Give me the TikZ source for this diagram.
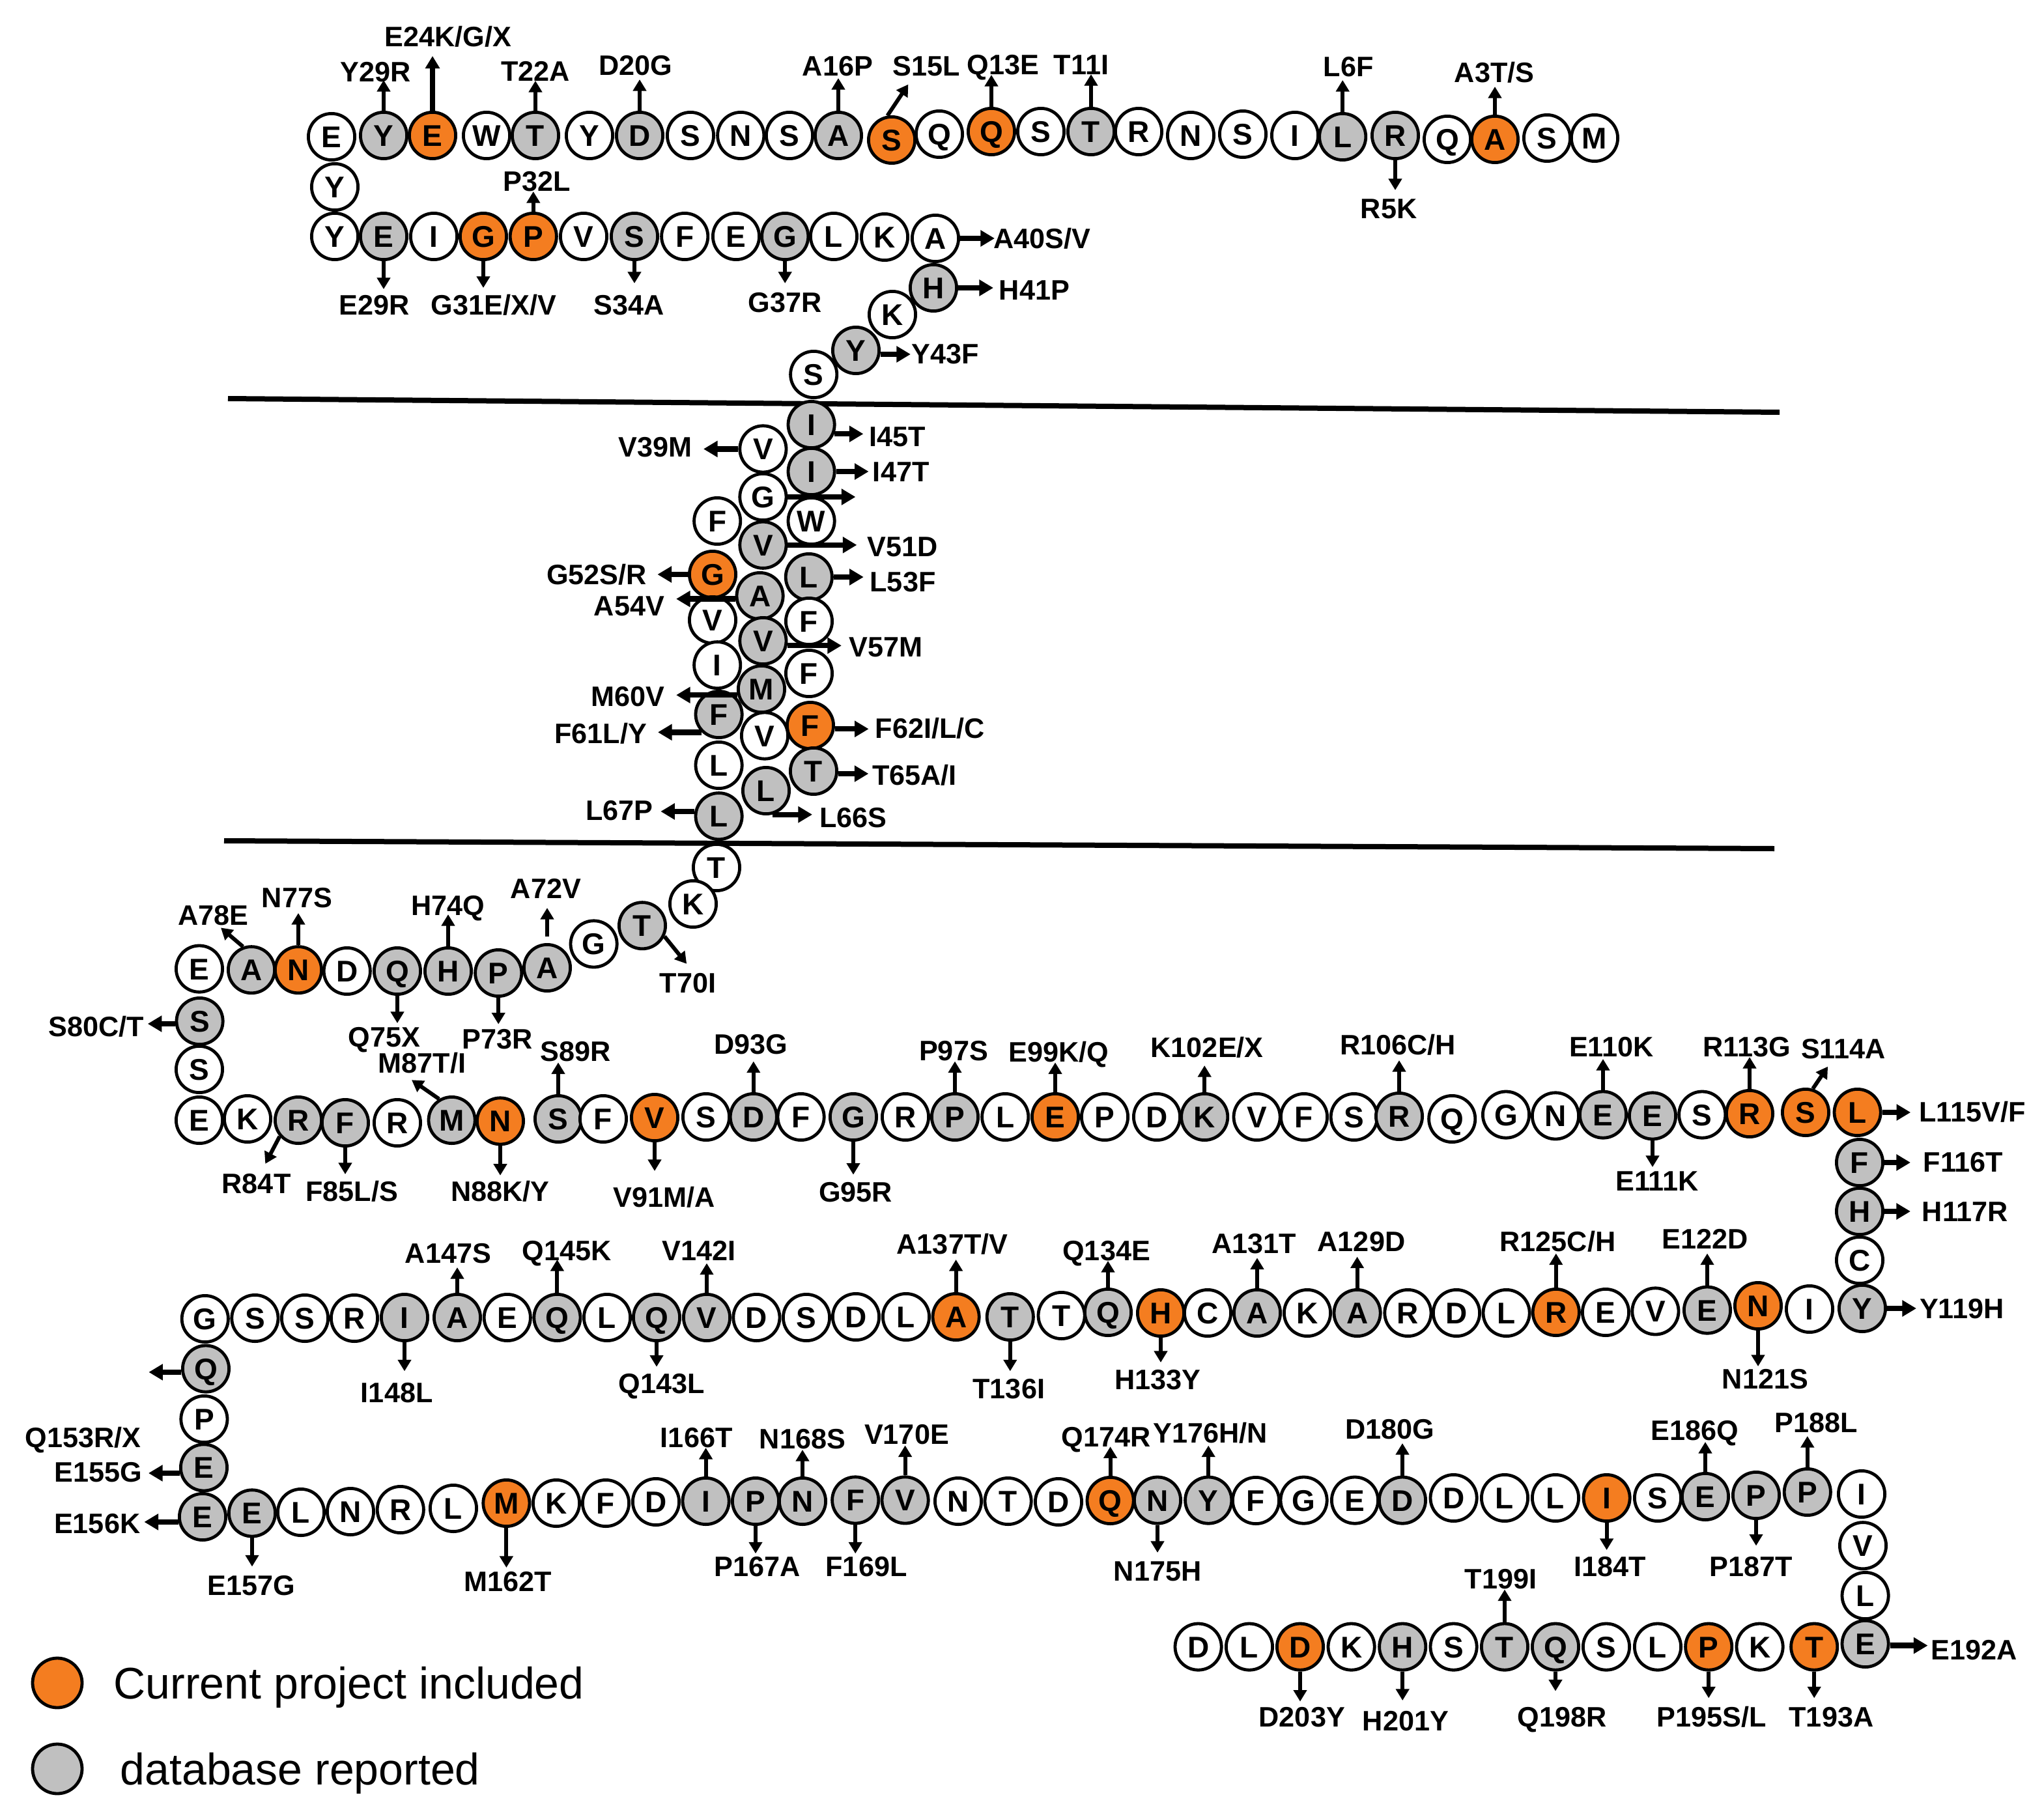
\documentclass[tikz,border=0pt]{standalone}
\usepackage{fontspec}
\setmainfont{Liberation Sans}
\usetikzlibrary{arrows.meta,calc}
\definecolor{colo}{RGB}{244,125,32}
\definecolor{colg}{RGB}{192,192,192}
\definecolor{colw}{RGB}{255,255,255}
\newcommand\resfont{\fontsize{11.5pt}{13pt}\selectfont\bfseries}
\newcommand\labfont{\fontsize{10.8pt}{12pt}\selectfont\bfseries}
\newcommand\legfont{\fontsize{17pt}{20pt}\selectfont}
\newcommand\mut[6]{%
  \coordinate (#2t) at ($(#2.#3)+(#4)$);
  \draw[#1] (#2.#3) -- (#2t);
  \node[lab] (#2l) at (#5) {#6};}
\tikzset{
  res/.style={circle, draw=black, line width=1.2pt, minimum size=17.8pt, inner sep=0pt,
    font=\resfont, text height=8.2pt, text depth=0pt},
  lab/.style={font=\labfont, inner sep=0pt, text height=7.7pt, text depth=0pt},
  va/.style={line width=1.5pt, -{Triangle[length=4.4pt,width=5pt]}},
  vb/.style={line width=1.9pt, -{Triangle[length=4.8pt,width=5.4pt]}},
  ha/.style={line width=2.1pt, -{Triangle[length=5.4pt,width=6pt]}},
  membrane/.style={line width=2pt, black},
}
\begin{document}
\begin{tikzpicture}[x=0.5pt,y=-0.5pt]
\useasboundingbox (0,0) rectangle (1569,1396.5);
% membrane
\draw[membrane] (175,306) coordinate (m1a) -- (1366,316.5) coordinate (m1b);
\draw[membrane] (172,645.5) coordinate (m2a) -- (1362,651.5) coordinate (m2b);
% residues
\foreach \n/\l/\x/\y/\f in {
1/M/1224/106/w, 2/S/1187.5/106/w, 3/A/1147.5/107/o, 4/Q/1111/107/w, 5/R/1071/104/g,
6/L/1030.6/105/g, 7/I/994/104/w, 8/S/954/103/w, 9/N/914/104/w, 10/R/874/101/w,
11/T/837.5/101/g, 12/S/799/101/w, 13/Q/761/101/o, 14/Q/721/103/w, 15/S/684.5/107.5/o,
16/A/643.5/104/g, 17/S/606/104/w, 18/N/568.6/104/w, 19/S/530/104/w, 20/D/491/104/g,
21/Y/452.5/104/w, 22/T/411/104/g, 23/W/373.5/104/w, 24/E/332/104/o, 25/Y/294.5/104/g,
26/E/254.5/105/w, 27/Y/257/143.5/w, 28/Y/257/181.5/w, 29/E/294.5/181.5/g, 30/I/333/181.5/w,
31/G/371/181.5/o, 32/P/409.4/181.5/o, 33/V/448/181.5/w, 34/S/487/181.5/g, 35/F/525.6/181.5/w,
36/E/565/181.5/w, 37/G/602.6/181.5/g, 38/L/640/181.5/w, 39/K/679/182/w, 40/A/718/183/w,
41/H/716.5/221/g, 42/K/685/241.5/w, 43/Y/657/269/g, 44/S/624.6/287.5/w, 45/I/622.8/326/g,
46/V/585.7/344.7/w, 47/I/622.8/362/g, 48/G/585.7/381.5/w, 49/F/550.6/400/w, 50/W/622.8/400/w,
51/V/585.7/418.4/g, 52/G/547/441/o, 53/L/620.9/443/g, 54/A/583.3/457.5/g, 55/V/547/476/w,
56/F/621/477/w, 57/V/585.7/492/g, 58/I/550.6/510.6/w, 59/F/621/517/w, 60/M/584.5/529/g,
61/F/551.8/548.5/g, 62/F/622/557/o, 63/V/587/564.8/w, 64/L/551.8/587.5/w, 65/T/624.5/592/g,
66/L/588/607/g, 67/L/551.8/626.6/g, 68/T/550/666/w, 69/K/532/694/w, 70/T/493/710.6/g,
71/G/455.8/724.7/w, 72/A/420/743/g, 73/P/382.6/747/g, 74/H/344/745.5/g, 75/Q/305/745.5/g,
76/D/266.4/745.5/w, 77/N/229/744.6/o, 78/A/193/744.6/g, 79/E/153/743.8/w, 80/S/153.3/784/g,
81/S/153/821/w, 82/E/153/860/w, 83/K/190/859/w, 84/R/229/860/g, 85/F/265/862/g,
86/R/305/862/w, 87/M/346.8/860/g, 88/N/384/860.7/o, 89/S/428.5/859/g, 90/F/463/859/w,
91/V/502.5/858/o, 92/S/542/857.5/w, 93/D/578.4/857.5/g, 94/F/614.8/857.5/w, 95/G/655/857.5/g,
96/R/695/857.5/w, 97/P/733/857.5/g, 98/L/771.6/857.5/w, 99/E/810/857.5/o, 100/P/848/857.5/w,
101/D/888/857.5/w, 102/K/924.6/857.5/g, 103/V/964.8/857.5/w, 104/F/1001/857.5/w, 105/S/1039.4/857.5/w,
106/R/1074/857/g, 107/Q/1114.6/859/w, 108/G/1156/855.8/w, 109/N/1194/856.7/w, 110/E/1230.5/855.8/g,
111/E/1268.5/856.7/g, 112/S/1306.6/855.8/w, 113/R/1343/855/o, 114/S/1386/854/o, 115/L/1425.8/854/o,
116/F/1427.5/892.5/g, 117/H/1427.5/930/g, 118/C/1427.5/967.5/w, 119/Y/1429.5/1004.5/g, 120/I/1389/1005/w,
121/N/1349.5/1002.5/o, 122/E/1310.5/1005.8/g, 123/V/1270.7/1006.7/w, 124/E/1232.5/1007.5/w, 125/R/1194.4/1007.5/o,
126/L/1156.3/1008/w, 127/D/1118/1008/w, 128/R/1080.7/1008/w, 129/A/1041.8/1008/g, 130/K/1003.5/1008/w,
131/A/965/1008/g, 132/C/927/1008/w, 133/H/891/1008/o, 134/Q/850.5/1007.5/g, 135/T/814.8/1010/w,
136/T/775.4/1011/g, 137/A/733.8/1011/o, 138/L/695.5/1011/w, 139/D/657/1011/w, 140/S/619/1011.5/w,
141/D/580.7/1011.5/w, 142/V/542.5/1011.5/g, 143/Q/504/1011.5/g, 144/L/466/1011.5/w, 145/Q/427.7/1011.5/g,
146/E/389.4/1011.5/w, 147/A/351/1011.5/g, 148/I/310.5/1011.5/g, 149/R/272/1012/w, 150/S/234/1012/w,
151/S/195.7/1012/w, 152/G/157.4/1012.5/w, 153/Q/158/1050.8/g, 154/P/156.7/1089.5/w, 155/E/156.5/1126.7/g,
156/E/155.5/1164.5/g, 157/E/193.5/1161.7/g, 158/L/231/1161/w, 159/N/269/1160.5/w, 160/R/307.4/1159/w,
161/L/348/1158/w, 162/M/388.7/1154/o, 163/K/427/1154/w, 164/F/465/1154/w, 165/D/503.5/1153/w,
166/I/541.8/1152.5/g, 167/P/580/1152.5/g, 168/N/616/1152.5/g, 169/F/656.6/1151.7/g, 170/V/694.8/1151.7/g,
171/N/735.5/1152.5/w, 172/T/773.8/1152.5/w, 173/D/812.5/1153/w, 174/Q/852.3/1152/o, 175/N/888.5/1151.8/g,
176/Y/927.6/1151.8/g, 177/F/964/1152/w, 178/G/1000.8/1151.8/w, 179/E/1040/1151.8/w, 180/D/1076.5/1151.8/g,
181/D/1115.8/1150/w, 182/L/1155/1150/w, 183/L/1194/1150/w, 184/I/1233.3/1150/o, 185/S/1272.5/1150/w,
186/E/1309/1149/g, 187/P/1348/1148/g, 188/P/1387.4/1145.5/g, 189/I/1429/1147/w, 190/V/1430/1186.6/w,
191/L/1431.8/1225/w, 192/E/1431.8/1262/g, 193/T/1392.6/1264.3/o, 194/K/1350.8/1264.3/w, 195/P/1311.6/1264.3/o,
196/L/1272.5/1264.3/w, 197/S/1233/1264.3/w, 198/Q/1194/1264.3/g, 199/T/1155/1264.3/g, 200/S/1115.8/1264.3/w,
201/H/1076.6/1264.3/g, 202/K/1037.3/1264.3/w, 203/D/998/1264.3/o, 204/L/959/1264.3/w, 205/D/919.8/1264.3/w}
  {\node[res, fill=col\f] (r\n) at (\x,\y) {\l};}
% ---- mutations: top row
\mut{va}{r25}{north}{0,-23.5}{288.5,55}{Y29R}
\mut{vb}{r24}{north}{0,-42}{344,28}{E24K/G/X}
\mut{va}{r22}{north}{0,-23}{411,54.5}{T22A}
\mut{va}{r20}{north}{0,-24}{488,50}{D20G}
\mut{va}{r16}{north}{0,-25}{643,50.5}{A16P}
\mut{va}{r15}{100}{16,-24}{711,50.5}{S15L}
\mut{va}{r13}{north}{0,-24.5}{770,49.5}{Q13E}
\mut{va}{r11}{north}{0,-25}{830,49.5}{T11I}
\mut{va}{r6}{north}{0,-24.5}{1035,51}{L6F}
\mut{va}{r5}{south}{0,23}{1066,160}{R5K}
\mut{va}{r3}{north}{0,-21.5}{1147,55.5}{A3T/S}
% row 2
\mut{va}{r29}{south}{0,21.5}{287.5,234}{E29R}
\mut{va}{r31}{south}{0,20.5}{379,234}{G31E/X/V}
\mut{va}{r34}{south}{0,17}{483,234}{S34A}
\mut{va}{r32}{north}{0,-15.5}{412,139}{P32L}
\mut{va}{r37}{south}{0,17}{602.6,232}{G37R}
\mut{ha}{r40}{east}{26.5,0}{800,183}{A40S/V}
\mut{ha}{r41}{east}{27,0}{794,222.5}{H41P}
\mut{ha}{r43}{351}{23.2,0}{725.6,271.5}{Y43F}
% transmembrane
\mut{ha}{r45}{338}{22.3,0}{689,335}{I45T}
\mut{ha}{r47}{east}{25,0}{691.6,362}{I47T}
\coordinate (r48t) at ($(r48.east)+(52,0)$);
\draw[ha] (r48.east) -- (r48t);
\mut{ha}{r46}{west}{-26.7,0}{503,343}{V39M}
\mut{ha}{r51}{east}{53,0}{693,419.5}{V51D}
\mut{ha}{r53}{east}{23,0}{693,446.5}{L53F}
\mut{ha}{r52}{west}{-23.3,0}{458,441}{G52S/R}
\mut{ha}{r54}{187}{-45.4,0}{483,465}{A54V}
\mut{ha}{r57}{349}{41.6,0}{680,496.5}{V57M}
\mut{ha}{r60}{194}{-47,0}{482,534.4}{M60V}
\mut{ha}{r61}{226}{-33.6,0}{461,563}{F61L/Y}
\mut{ha}{r62}{352}{26,0}{714,559}{F62I/L/C}
\mut{ha}{r65}{354}{23.3,0}{702,595}{T65A/I}
\mut{ha}{r67}{169}{-26,0}{475.5,622}{L67P}
\mut{ha}{r66}{285}{30.6,0}{655,627.5}{L66S}
% row 3
\mut{va}{r70}{334}{17,21}{528,754.5}{T70I}
\mut{va,shorten <=2.5pt}{r72}{north}{0,-27}{419,682}{A72V}
\mut{va}{r74}{north}{0,-24.5}{344,695}{H74Q}
\mut{va}{r77}{north}{0,-24.6}{228,689}{N77S}
\mut{va}{r78}{110}{-17,-14.5}{163.7,702.7}{A78E}
\mut{va}{r75}{south}{0,21}{295,796}{Q75X}
\mut{va}{r73}{south}{0,20.3}{382,797.7}{P73R}
\mut{ha}{r80}{186}{-21,0}{73.8,788}{S80C/T}
\mut{va}{r87}{121}{-21,-14.6}{324,816}{M87T/I}
\mut{va}{r89}{north}{0,-24.3}{442,807}{S89R}
\mut{va}{r84}{221.5}{-11,21}{196.8,908.7}{R84T}
\mut{va}{r85}{south}{0,20.5}{270,914.5}{F85L/S}
\mut{va}{r88}{south}{0,22.7}{384,914.5}{N88K/Y}
\mut{va}{r91}{south}{0,22}{510,918.8}{V91M/A}
\mut{va}{r93}{north}{0,-23.7}{576.4,801.7}{D93G}
\mut{va}{r95}{south}{0,25.3}{656.8,915}{G95R}
\mut{va}{r97}{north}{0,-23.7}{732,806.7}{P97S}
\mut{va}{r99}{north}{0,-22.8}{812.8,807.5}{E99K/Q}
\mut{va}{r102}{north}{0,-20.5}{926.6,803.8}{K102E/X}
\mut{va}{r106}{north}{0,-24}{1073,802}{R106C/H}
\mut{va}{r110}{north}{0,-23.8}{1237,803.3}{E110K}
\mut{va}{r111}{south}{0,20.3}{1272,906.5}{E111K}
\mut{va}{r113}{north}{0,-24.5}{1341,803.3}{R113G}
\mut{va}{r114}{73}{11.5,-17}{1415,805}{S114A}
\mut{ha}{r115}{east}{21.8,0}{1514,853.7}{L115V/F}
\mut{ha}{r116}{east}{20,0}{1507,892}{F116T}
\mut{ha}{r117}{east}{20,0}{1508.5,930}{H117R}
\mut{ha}{r119}{east}{22.5,0}{1506,1004.6}{Y119H}
% row 4
\mut{va}{r125}{north}{0,-26.2}{1195.7,953}{R125C/H}
\mut{va}{r122}{north}{0,-24.5}{1309,950.8}{E122D}
\mut{va}{r121}{south}{0,27.5}{1355,1058.7}{N121S}
\mut{va}{r134}{north}{0,-20.5}{849.3,960}{Q134E}
\mut{va}{r131}{north}{0,-23.3}{962.7,954.6}{A131T}
\mut{va}{r129}{north}{0,-24.2}{1045,953}{A129D}
\mut{va}{r133}{south}{0,19}{888.6,1059}{H133Y}
\mut{va}{r137}{north}{0,-25}{731,955}{A137T/V}
\mut{va}{r136}{south}{0,22.7}{774.4,1065.8}{T136I}
\mut{va}{r142}{north}{0,-22.7}{536.5,960}{V142I}
\mut{va}{r143}{south}{0,18.8}{507.8,1062}{Q143L}
\mut{va}{r145}{north}{0,-25.5}{435,960}{Q145K}
\mut{va}{r147}{north}{0,-19.5}{344,962}{A147S}
\mut{va}{r148}{south}{0,22.2}{304.6,1068.8}{I148L}
% left column
\mut{ha}{r153}{188}{-25,0}{63.7,1103.3}{Q153R/X}
\mut{ha}{r155}{193}{-24,0}{75.4,1130}{E155G}
\mut{ha}{r156}{192}{-26.2,0}{74.6,1169.6}{E156K}
% row 5
\mut{va}{r157}{south}{0,22}{192.8,1217}{E157G}
\mut{va}{r162}{south}{0,30.5}{390,1213.8}{M162T}
\mut{va}{r166}{north}{0,-22}{534.6,1103.3}{I166T}
\mut{va}{r168}{north}{0,-20.5}{616,1104.6}{N168S}
\mut{va}{r170}{north}{0,-23}{696,1100.8}{V170E}
\mut{va}{r167}{south}{0,21.2}{581.3,1202.5}{P167A}
\mut{va}{r169}{south}{0,22}{665,1202.5}{F169L}
\mut{va}{r174}{north}{0,-22.4}{849,1103}{Q174R}
\mut{va}{r176}{north}{0,-23}{929,1100}{Y176H/N}
\mut{va}{r175}{south}{0,21.2}{888.6,1206}{N175H}
\mut{va}{r180}{north}{0,-24.8}{1067,1097}{D180G}
\mut{va}{r184}{south}{0,21}{1236,1202.7}{I184T}
\mut{va}{r186}{north}{0,-23}{1301,1097.8}{E186Q}
\mut{va}{r187}{south}{0,19.7}{1344,1202.7}{P187T}
\mut{va}{r188}{north}{0,-24}{1394,1092}{P188L}
% row 6
\mut{ha}{r192}{356}{29,0}{1515.5,1266.5}{E192A}
\mut{va}{r193}{south}{0,20.4}{1405.7,1317.8}{T193A}
\mut{va}{r195}{south}{0,20.4}{1314,1318}{P195S/L}
\mut{va}{r198}{south}{0,15}{1199,1318}{Q198R}
\mut{va}{r199}{north}{0,-25}{1152,1212}{T199I}
\mut{va}{r201}{south}{0,22.2}{1079,1321}{H201Y}
\mut{va}{r203}{south}{0,23}{999.4,1318}{D203Y}
% legend
\node[res, fill=colo, minimum size=19pt] (legO) at (44,1292) {};
\node[res, fill=colg, minimum size=19pt] (legG) at (44,1358) {};
\node[font=\legfont, anchor=west, inner sep=0pt, text height=12.2pt, text depth=0pt] (legOt) at (87,1292) {Current project included};
\node[font=\legfont, anchor=west, inner sep=0pt, text height=12.2pt, text depth=0pt] (legGt) at (92,1358) {database reported};
\end{tikzpicture}
\end{document}
